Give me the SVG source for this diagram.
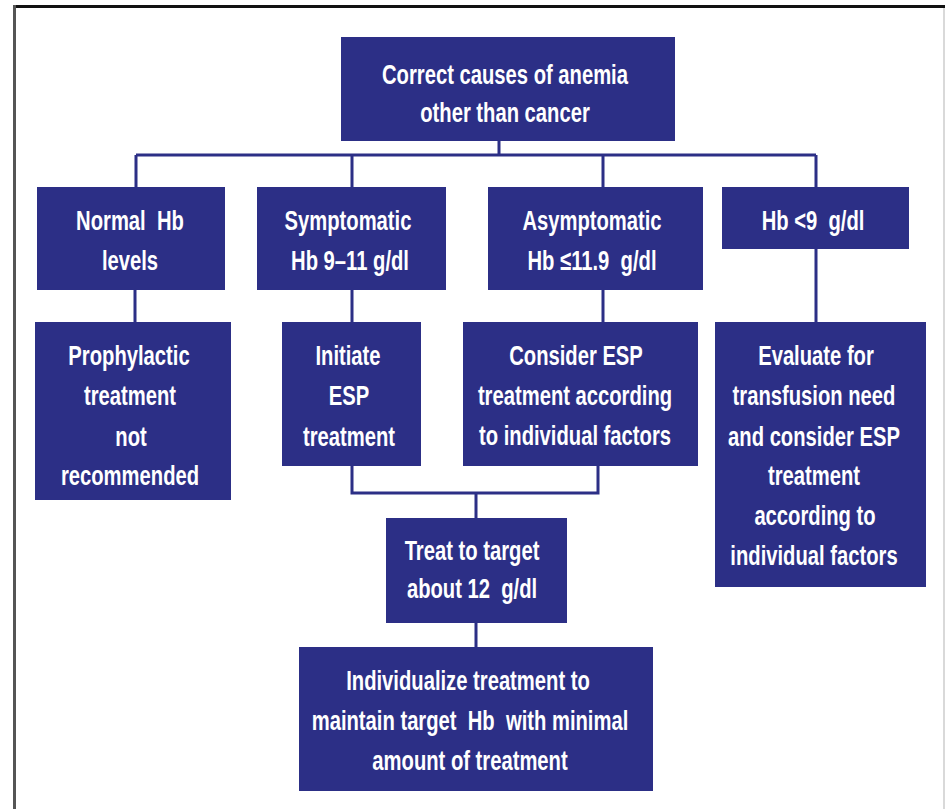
<svg xmlns="http://www.w3.org/2000/svg" width="945" height="809" viewBox="0 0 945 809">
<style>
.box{fill:#2c2f86;}
.t{fill:#ffffff;font-family:"Liberation Sans",Arial,sans-serif;font-weight:bold;font-size:27.5px;text-anchor:middle;white-space:pre;}
.c{fill:none;stroke:#2c2f86;stroke-width:3;}
</style>
<rect x="0" y="0" width="945" height="809" fill="#ffffff"/>
<g id="frame">
<line x1="13" y1="6.5" x2="945" y2="6.5" stroke="#111111" stroke-width="3"/>
<line x1="14.5" y1="5" x2="14.5" y2="809" stroke="#555555" stroke-width="3"/>
<line x1="944" y1="8" x2="944" y2="809" stroke="#cccccc" stroke-width="1.5"/>
</g>
<g id="connectors">
<path class="c" d="M499 141 V155 M136 155 H816 M136 155 V187 M352 155 V187 M603 155 V187 M816 155 V187"/>
<path class="c" d="M135 290 V322 M352 290 V322 M603 290 V322 M816 249 V322"/>
<path class="c" d="M352 466 V493 H598 V466 M476 493 V518 M476 623 V647"/>
</g>
<g id="n_top"><rect class="box" x="341" y="37" width="334" height="104"/>
<text class="t" transform="translate(505 84) scale(0.735 1)">Correct causes of anemia</text>
<text class="t" transform="translate(505 122) scale(0.735 1)">other than cancer</text></g>
<g id="n_normal"><rect class="box" x="37" y="187" width="188" height="103"/>
<text class="t" transform="translate(130 230) scale(0.735 1)" xml:space="preserve">Normal  Hb</text>
<text class="t" transform="translate(130 270) scale(0.735 1)">levels</text></g>
<g id="n_symptomatic"><rect class="box" x="257" y="187" width="189" height="103"/>
<text class="t" transform="translate(348 230) scale(0.735 1)">Symptomatic</text>
<text class="t" transform="translate(350 270) scale(0.735 1)">Hb 9–11 g/dl</text></g>
<g id="n_asymptomatic"><rect class="box" x="488" y="187" width="215" height="103"/>
<text class="t" transform="translate(592 230) scale(0.735 1)">Asymptomatic</text>
<text class="t" transform="translate(592 270) scale(0.735 1)" xml:space="preserve">Hb ≤11.9  g/dl</text></g>
<g id="n_hb9"><rect class="box" x="722" y="187" width="187" height="62"/>
<text class="t" transform="translate(813 230) scale(0.735 1)" xml:space="preserve">Hb &lt;9  g/dl</text></g>
<g id="n_prophylactic"><rect class="box" x="35" y="322" width="196" height="178"/>
<text class="t" transform="translate(129 365) scale(0.735 1)">Prophylactic</text>
<text class="t" transform="translate(130 405) scale(0.735 1)">treatment</text>
<text class="t" transform="translate(131 446) scale(0.735 1)">not</text>
<text class="t" transform="translate(130 485) scale(0.735 1)">recommended</text></g>
<g id="n_initiate"><rect class="box" x="282" y="322" width="139" height="144"/>
<text class="t" transform="translate(348 365) scale(0.735 1)">Initiate</text>
<text class="t" transform="translate(349 405) scale(0.735 1)">ESP</text>
<text class="t" transform="translate(349 446) scale(0.735 1)">treatment</text></g>
<g id="n_consider"><rect class="box" x="463" y="322" width="235" height="144"/>
<text class="t" transform="translate(576 365) scale(0.735 1)">Consider ESP</text>
<text class="t" transform="translate(575 405) scale(0.735 1)">treatment according</text>
<text class="t" transform="translate(575 445) scale(0.735 1)">to individual factors</text></g>
<g id="n_evaluate"><rect class="box" x="715" y="322" width="211" height="265"/>
<text class="t" transform="translate(816 365) scale(0.735 1)">Evaluate for</text>
<text class="t" transform="translate(814 405) scale(0.735 1)">transfusion need</text>
<text class="t" transform="translate(814 446) scale(0.735 1)">and consider ESP</text>
<text class="t" transform="translate(814 485) scale(0.735 1)">treatment</text>
<text class="t" transform="translate(815 525) scale(0.735 1)">according to</text>
<text class="t" transform="translate(814 565) scale(0.735 1)">individual factors</text></g>
<g id="n_target"><rect class="box" x="386" y="518" width="181" height="105"/>
<text class="t" transform="translate(472 560) scale(0.735 1)">Treat to target</text>
<text class="t" transform="translate(472 598) scale(0.735 1)" xml:space="preserve">about 12  g/dl</text></g>
<g id="n_individualize"><rect class="box" x="299" y="647" width="354" height="144"/>
<text class="t" transform="translate(468 690) scale(0.735 1)">Individualize treatment to</text>
<text class="t" transform="translate(470 730) scale(0.735 1)" xml:space="preserve">maintain target  Hb  with minimal</text>
<text class="t" transform="translate(470 770) scale(0.735 1)">amount of treatment</text></g>
</svg>
